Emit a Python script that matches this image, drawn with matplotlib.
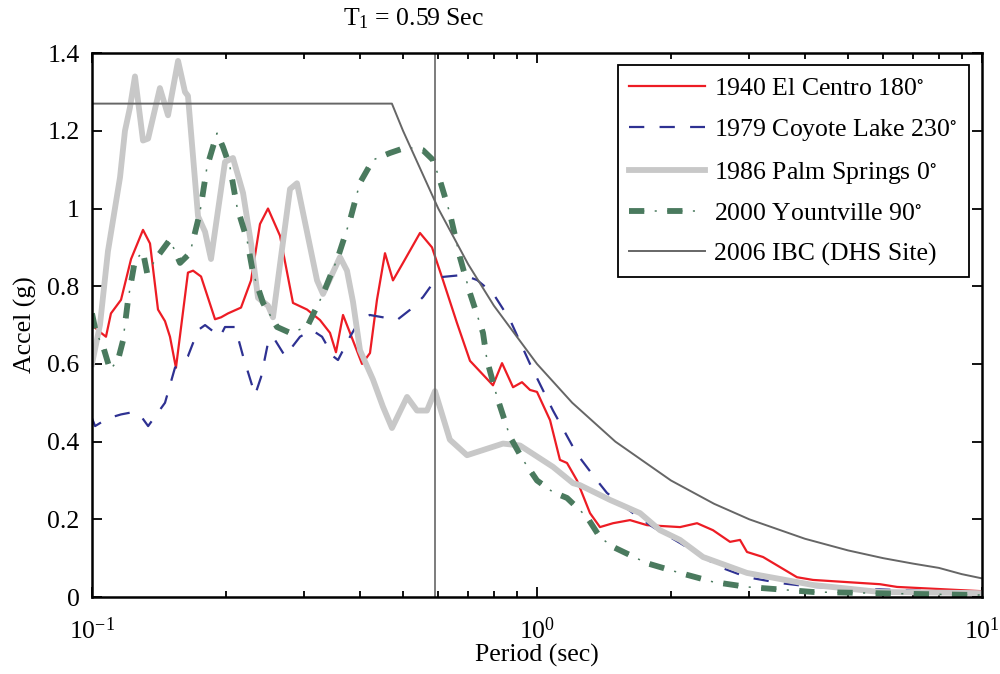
import matplotlib
matplotlib.use("Agg")
import matplotlib.pyplot as plt
from matplotlib.ticker import FixedLocator, FuncFormatter

plt.rcParams['font.family'] = ['Liberation Serif', 'DejaVu Serif']
plt.rcParams['mathtext.fontset'] = 'stix'
plt.rcParams['mathtext.default'] = 'regular'
plt.rcParams['lines.scale_dashes'] = False
plt.rcParams['font.size'] = 18.5

# 1986 Palm Springs 0
ps_T = [0.100, 0.1042, 0.1086, 0.1156, 0.1186, 0.1217, 0.1249, 0.1302, 0.1337, 0.1421, 0.1482,
        0.1561, 0.1618, 0.1643, 0.1731, 0.1795, 0.1851, 0.1990, 0.2074, 0.2185, 0.2277, 0.2361,
        0.2486, 0.2551, 0.2786, 0.2888, 0.2979, 0.3204, 0.3305, 0.3608, 0.3741, 0.3859, 0.4002,
        0.4279, 0.4506, 0.4722, 0.5105, 0.5374, 0.5660, 0.5899, 0.637, 0.6962, 0.8387, 0.916,
        1.0863, 1.205, 1.249, 1.459, 1.704, 1.890, 2.096, 2.361, 2.964, 4.171, 5.899, 10.0]
ps_A = [0.60, 0.70, 0.89, 1.08, 1.20, 1.26, 1.34, 1.175, 1.18, 1.31, 1.24,
        1.38, 1.30, 1.29, 0.98, 0.94, 0.87, 1.12, 1.13, 1.04, 0.91, 0.77,
        0.75, 0.72, 1.05, 1.065, 0.99, 0.815, 0.78, 0.875, 0.84, 0.76, 0.635,
        0.56, 0.49, 0.435, 0.515, 0.48, 0.48, 0.53, 0.405, 0.365, 0.395, 0.39,
        0.335, 0.293, 0.288, 0.25, 0.216, 0.172, 0.147, 0.103, 0.062, 0.031, 0.013, 0.01]

# 1940 El Centro 180
ec_T = [0.100, 0.1048, 0.1075, 0.1103, 0.1162, 0.1224, 0.1302, 0.1350, 0.1407, 0.1459, 0.1497,
        0.1544, 0.1643, 0.1687, 0.1758, 0.1890, 0.1950, 0.2021, 0.2162, 0.2277, 0.2385, 0.2486,
        0.2645, 0.2829, 0.3042, 0.3253, 0.3426, 0.3534, 0.3665, 0.380, 0.4044, 0.4214, 0.4369,
        0.4554, 0.4746, 0.4999, 0.5458, 0.5808, 0.6150, 0.6611, 0.707, 0.7963, 0.8345, 0.8834,
        0.9252, 0.9645, 1.0, 1.070, 1.126, 1.168, 1.230, 1.3155, 1.385, 1.482, 1.618, 1.767,
        2.096, 2.289, 2.486, 2.715, 2.859, 2.964, 3.221, 3.839, 4.171, 5.899, 6.442, 10.0]
ec_A = [0.70, 0.68, 0.67, 0.73, 0.765, 0.87, 0.945, 0.91, 0.74, 0.71, 0.67,
        0.59, 0.835, 0.84, 0.825, 0.715, 0.72, 0.73, 0.745, 0.815, 0.96, 1.0,
        0.93, 0.757, 0.74, 0.713, 0.68, 0.63, 0.726, 0.68, 0.60, 0.628, 0.765,
        0.885, 0.815, 0.86, 0.937, 0.90, 0.815, 0.705, 0.608, 0.545, 0.602, 0.54,
        0.553, 0.533, 0.528, 0.455, 0.353, 0.345, 0.30, 0.216, 0.18, 0.19, 0.198, 0.185,
        0.18, 0.19, 0.172, 0.142, 0.147, 0.116, 0.103, 0.051, 0.044, 0.033, 0.026, 0.015]

# 1979 Coyote Lake 230
cl_T = [0.100, 0.1016, 0.1086, 0.1162, 0.1224, 0.128, 0.1337, 0.1459, 0.1536, 0.1643, 0.1731,
        0.1795, 0.194, 0.199, 0.2097, 0.2185, 0.2325, 0.2398, 0.2486, 0.2551, 0.2715, 0.2934,
        0.3122, 0.3288, 0.3480, 0.3571, 0.380, 0.400, 0.421, 0.4506, 0.4846, 0.518, 0.5543,
        0.5838, 0.615, 0.6819, 0.7332, 0.7963, 0.870, 0.9645, 1.0863, 1.205, 1.249, 1.364,
        1.436, 1.643, 1.823, 2.096, 2.578, 2.964, 3.516, 4.171, 10.0]
cl_A = [0.46, 0.44, 0.46, 0.47, 0.475, 0.47, 0.44, 0.50, 0.59, 0.62, 0.687,
        0.70, 0.67, 0.695, 0.695, 0.62, 0.52, 0.566, 0.654, 0.67, 0.62, 0.67,
        0.687, 0.67, 0.62, 0.61, 0.67, 0.713, 0.726, 0.72, 0.713, 0.739, 0.772,
        0.808, 0.824, 0.829, 0.816, 0.782, 0.713, 0.60, 0.48, 0.386, 0.358, 0.30,
        0.268, 0.216, 0.18, 0.139, 0.077, 0.051, 0.036, 0.026, 0.01]

# 2000 Yountville 90
yv_T = [0.100, 0.1021, 0.1059, 0.1098, 0.1144, 0.1174, 0.1205, 0.1249, 0.1302, 0.1330, 0.1400,
        0.1497, 0.1577, 0.166, 0.1748, 0.1813, 0.1910, 0.1970, 0.2042, 0.2118, 0.2230, 0.2301,
        0.2423, 0.2605, 0.2786, 0.3042, 0.3305, 0.3571, 0.380, 0.400, 0.4279, 0.4673, 0.5105,
        0.5543, 0.5838, 0.605, 0.637, 0.671, 0.707, 0.7562, 0.7719, 0.8131, 0.870, 0.930,
        1.0, 1.0863, 1.168, 1.295, 1.385, 1.482, 1.767, 2.096, 2.486, 2.964, 4.171, 7.0, 10.0]
yv_A = [0.73, 0.68, 0.645, 0.585, 0.61, 0.66, 0.765, 0.867, 0.888, 0.834, 0.875,
        0.92, 0.86, 0.885, 0.99, 1.107, 1.194, 1.158, 1.107, 1.004, 0.92, 0.834,
        0.757, 0.695, 0.68, 0.695, 0.78, 0.875, 0.97, 1.066, 1.125, 1.143, 1.158,
        1.15, 1.125, 1.073, 0.988, 0.875, 0.782, 0.68, 0.61, 0.515, 0.412, 0.353,
        0.30, 0.27, 0.255, 0.206, 0.154, 0.129, 0.087, 0.062, 0.039, 0.026, 0.013, 0.008, 0.005]

# 2006 IBC design spectrum (DHS site)
ibc_T = [0.1, 0.472, 0.5, 0.6, 0.7, 0.8, 1.0, 1.2, 1.5, 2.0, 2.5, 3.0, 4.0, 5.0, 6.0, 7.0, 8.0, 9.0, 10.0]
ibc_A = [1.27, 1.27, 1.2, 1.0, 0.857, 0.75, 0.6, 0.5, 0.4, 0.3, 0.24, 0.2, 0.15, 0.12, 0.1, 0.086, 0.075, 0.059, 0.048]

T1 = 0.59

fig = plt.figure(figsize=(10, 6.74), dpi=100)
ax = fig.add_axes([0.092, 0.1142, 0.89, 0.807])

l_ec, = ax.plot(ec_T, ec_A, color='#ED1C24', lw=1.6)
l_cl, = ax.plot(cl_T, cl_A, color='#2E3192', lw=1.6, linestyle=(0, (11, 11)))
l_ps, = ax.plot(ps_T, ps_A, color='#C8C8C8', lw=4.2)
l_yv1, = ax.plot(yv_T, yv_A, color='#4A7A5E', lw=1.1, linestyle=(0, (11, 7.5, 1.5, 7.5)))
l_yv2, = ax.plot(yv_T, yv_A, color='#4A7A5E', lw=4.2, linestyle=(0, (11, 16.5)))
l_ibc, = ax.plot(ibc_T, ibc_A, color='#666666', lw=1.4)
ax.axvline(T1, color='#666666', lw=1.2)

ax.set_xscale('log')
ax.set_xlim(0.1, 10)
ax.set_ylim(0, 1.4)
ax.yaxis.set_major_locator(FixedLocator([0, 0.2, 0.4, 0.6, 0.8, 1.0, 1.2, 1.4]))
ax.yaxis.set_major_formatter(FuncFormatter(lambda v, p: '%g' % v))
ax.tick_params(which='both', direction='in', top=True, right=True, width=1.3)
ax.tick_params(which='major', length=7)
ax.tick_params(which='minor', length=4)
ax.tick_params(axis='y', pad=9)
ax.tick_params(axis='x', pad=15)
for s in ax.spines.values():
    s.set_linewidth(1.8)

fig.text(0.537, 0.028, 'Period (sec)', ha='center', va='center')
fig.text(0.025, 0.518, 'Accel (g)', ha='center', va='center', rotation=90)
fig.text(0.413, 0.972, r'T$_1$ = 0.59 Sec', ha='center', va='center')

labels = [r'1940 El Centro 180$^{\circ}$', r'1979 Coyote Lake 230$^{\circ}$',
          r'1986 Palm Springs 0$^{\circ}$', r'2000 Yountville 90$^{\circ}$', '2006 IBC (DHS Site)']
leg = ax.legend([l_ec, l_cl, l_ps, (l_yv1, l_yv2), l_ibc], labels, loc='upper right',
                bbox_to_anchor=(0.985, 0.978), borderaxespad=0, fancybox=False,
                framealpha=1, edgecolor='black', handlelength=2.95, handletextpad=0.35,
                labelspacing=0.66, borderpad=0.45)
leg.get_frame().set_linewidth(1.3)

fig.savefig('out.png', dpi=100)
